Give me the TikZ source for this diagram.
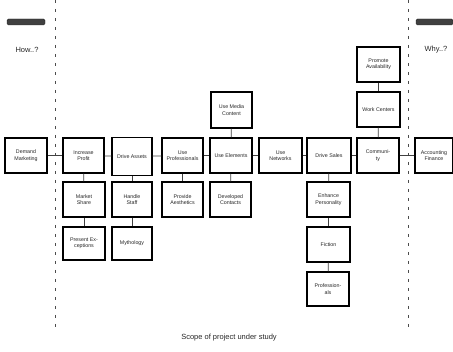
\documentclass[tikz,border=0pt]{standalone}
\usepackage{fontspec}
\setmainfont{Liberation Sans}
\begin{document}
\begin{tikzpicture}[x=1pt,y=-1pt,
  bx/.style={draw=black, line width=1.1pt, fill=white, align=center, inner sep=1pt,
    minimum height=35pt, text=black!85, font=\fontsize{5.3}{6.3}\selectfont},
  cn/.style={draw=black!75, line width=0.7pt},
  sep/.style={draw=black!70, line width=0.8pt, dash pattern=on 3pt off 6pt},
  bar/.style={fill=black!75, draw=black!85, rounded corners=1.5pt},
  lab/.style={text=black!85, font=\fontsize{7.5}{9}\selectfont}]
\useasboundingbox (0,0) rectangle (453,352);
% separators
\coordinate (l1) at (55,0); \coordinate (l2) at (55,330);
\coordinate (r1) at (408,0); \coordinate (r2) at (408,330);
\draw[sep] (l1) -- (l2);
\draw[sep] (r1) -- (r2);
\fill[bar] (7,19) rectangle (45,25);
\fill[bar] (416,19) rectangle (453,25);
\node[lab] (how) at (27,50) {How..?};
\node[lab] (why) at (436,50) {Why..?};
% main row
\node[bx, minimum width=42pt] (n1) at (26,155.5) {Demand\\Marketing};
\node[bx, minimum width=41pt] (n2) at (83.5,155.5) {Increase\\Profit};
\node[bx, minimum width=40pt, minimum height=38pt] (n3) at (132,156.5) {Drive Assets};
\node[bx, minimum width=41pt] (n4) at (182.5,155.5) {Use\\Professionals};
\node[bx, minimum width=42pt] (n5) at (231,155.5) {Use Elements};
\node[bx, minimum width=43pt] (n6) at (280.5,155.5) {Use\\Networks};
\node[bx, minimum width=44pt] (n7) at (329,155.5) {Drive Sales};
\node[bx, minimum width=42pt] (n8) at (378,155.5) {Communi-\\ty};
\node[bx, minimum width=38pt] (n9) at (434,155.5) {Accounting\\Finance};
% second row
\node[bx, minimum width=42pt] (m1) at (84,199.5) {Market\\Share};
\node[bx, minimum width=40pt] (m2) at (132,199.5) {Handle\\Staff};
\node[bx, minimum width=41pt] (m3) at (182.5,199.5) {Provide\\Aesthetics};
\node[bx, minimum width=41pt] (m4) at (230.5,199.5) {Developed\\Contacts};
\node[bx, minimum width=43pt] (m5) at (328.5,199.5) {Enhance\\Personality};
% third row
\node[bx, minimum width=42pt, minimum height=33pt] (p1) at (84,243.5) {Present Ex-\\ceptions};
\node[bx, minimum width=40pt, minimum height=33pt] (p2) at (132,243.5) {Mythology};
\node[bx, minimum width=43pt] (p3) at (328.5,244.5) {Fiction};
% fourth row
\node[bx, minimum width=42pt, minimum height=34pt] (q1) at (328,289) {Profession-\\als};
% top
\node[bx, minimum width=41pt, minimum height=36pt] (t1) at (231.5,110) {Use Media\\Content};
\node[bx, minimum width=43pt] (u1) at (378.5,64.5) {Promote\\Availability};
\node[bx, minimum width=43pt] (u2) at (378.5,109.5) {Work Centers};
% connectors
\draw[cn] (n1) -- (n2);
\draw[cn] (n2) -- (n3);
\draw[cn] (n3) -- (n4);
\draw[cn] (n4) -- (n5);
\draw[cn] (n5) -- (n6);
\draw[cn] (n6) -- (n7);
\draw[cn] (n7) -- (n8);
\draw[cn] (n8) -- (n9);
\draw[cn] (n2) -- (m1);
\draw[cn] (m1) -- (p1);
\draw[cn] (n3) -- (m2);
\draw[cn] (m2) -- (p2);
\draw[cn] (n4) -- (m3);
\draw[cn] (n5) -- (m4);
\draw[cn] (t1) -- (n5);
\draw[cn] (n7) -- (m5);
\draw[cn] (m5) -- (p3);
\draw[cn] (p3) -- (q1);
\draw[cn] (n8) -- (u2);
\draw[cn] (u2) -- (u1);
% caption
\node[lab] (cap) at (229,338) {Scope of project under study};
\end{tikzpicture}
\end{document}
